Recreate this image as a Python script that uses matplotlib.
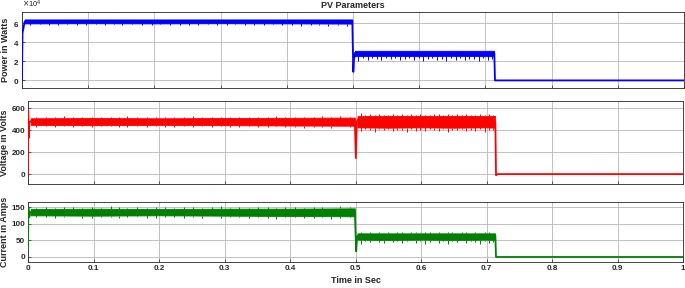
import numpy as np
import matplotlib.pyplot as plt
from matplotlib.ticker import ScalarFormatter

# ---- data ----
# switching traces (start-up, step at 0.5 s, shut-off at ~0.714 s)
p_trace_t = [0, 0.0008, 0.002, 0.004, 0.499, 0.5005, 0.5015, 0.503, 0.505, 0.712, 0.7135, 0.7145, 1.0]
p_trace_v = [0, 5.0e4, 5.4e4, 6.2e4, 6.2e4, 0.9e4, 2.2e4, 2.9e4, 2.8e4, 2.9e4, 2.9e4, 0, 0]
v_trace_t = [0, 0.0003, 0.001, 0.002, 0.004, 0.499, 0.5005, 0.502, 0.504, 0.712, 0.7135, 0.7145, 0.717, 1.0]
v_trace_v = [0, 580, 330, 470, 480, 470, 145, 480, 500, 470, 470, -10, 0, 0]
i_trace_t = [0, 0.0005, 0.002, 0.004, 0.499, 0.501, 0.5025, 0.504, 0.712, 0.7135, 0.7145, 1.0]
i_trace_v = [20, 150, 120, 135, 135, 17, 60, 65, 65, 65, 0, 0]

# ripple band limits (core of the noisy trace)
band1_t = [0.004, 0.1, 0.2, 0.3, 0.4, 0.499]
band2_t = [0.503, 0.55, 0.6, 0.65, 0.7, 0.713]
p_b1_lo = [6.0e4, 6.02e4, 6.0e4, 6.02e4, 6.0e4, 5.98e4]
p_b1_hi = [6.42e4, 6.42e4, 6.42e4, 6.42e4, 6.42e4, 6.42e4]
p_b2_lo = [2.55e4, 2.58e4, 2.55e4, 2.58e4, 2.55e4, 2.55e4]
p_b2_hi = [3.12e4, 3.12e4, 3.12e4, 3.12e4, 3.12e4, 3.12e4]
v_b1_lo = [448, 445, 448, 445, 442, 440]
v_b1_hi = [508, 510, 508, 510, 512, 514]
v_b2_lo = [425, 422, 425, 422, 425, 422]
v_b2_hi = [528, 530, 528, 530, 528, 530]
i_b1_lo = [125, 124, 125, 124, 123, 122]
i_b1_hi = [144, 145, 144, 145, 145, 146]
i_b2_lo = [52, 51, 52, 51, 52, 51]
i_b2_hi = [71, 71, 71, 71, 71, 71]

# ripple spikes outside the core band
spk1_t = [0.012, 0.027, 0.041, 0.055, 0.068, 0.083, 0.097, 0.112, 0.126, 0.139, 0.151, 0.166,
          0.181, 0.196, 0.209, 0.223, 0.238, 0.252, 0.266, 0.281, 0.295, 0.309, 0.322, 0.337,
          0.351, 0.366, 0.379, 0.393, 0.408, 0.421, 0.436, 0.449, 0.463, 0.477, 0.491]
spk2_t = [0.508, 0.515, 0.522, 0.529, 0.536, 0.543, 0.550, 0.557, 0.564, 0.571, 0.578, 0.585,
          0.592, 0.599, 0.606, 0.613, 0.620, 0.627, 0.634, 0.641, 0.648, 0.655, 0.662, 0.669,
          0.676, 0.683, 0.690, 0.697, 0.704, 0.710]
p_dn1 = [5.85e4, 5.9e4, 5.8e4, 5.88e4, 5.92e4, 5.82e4, 5.87e4, 5.9e4, 5.84e4, 5.89e4, 5.8e4, 5.9e4,
         5.86e4, 5.83e4, 5.9e4, 5.87e4, 5.81e4, 5.88e4, 5.85e4, 5.9e4, 5.82e4, 5.86e4, 5.89e4, 5.8e4,
         5.87e4, 5.84e4, 5.9e4, 5.83e4, 5.86e4, 5.78e4, 5.85e4, 5.8e4, 5.75e4, 5.82e4, 5.78e4]
p_dn2 = [2.0e4, 2.35e4, 2.2e4, 2.4e4, 2.3e4, 2.15e4, 2.4e4, 2.25e4, 2.35e4, 2.1e4, 2.3e4, 2.4e4,
         2.2e4, 2.35e4, 2.05e4, 2.3e4, 2.4e4, 2.15e4, 2.3e4, 2.0e4, 2.35e4, 2.2e4, 2.4e4, 2.1e4,
         2.3e4, 2.25e4, 2.05e4, 2.35e4, 2.2e4, 2.3e4]
v_up1 = [518, 522, 516, 525, 519, 521, 517, 524, 520, 518, 526, 519, 522, 517, 523, 520, 518,
         525, 521, 519, 523, 517, 524, 520, 522, 518, 526, 521, 519, 524, 522, 527, 520, 525, 523]
v_dn1 = [432, 438, 428, 435, 430, 440, 426, 434, 437, 429, 433, 439, 427, 436, 431, 425, 438, 430,
         434, 428, 436, 432, 426, 437, 430, 424, 435, 429, 433, 422, 431, 427, 420, 434, 428]
v_up2 = [552, 540, 545, 538, 548, 542, 536, 546, 540, 550, 537, 544, 539, 547, 541, 536, 549, 543,
         538, 546, 540, 544, 537, 548, 542, 539, 545, 541, 547, 540]
v_dn2 = [395, 410, 402, 385, 408, 398, 412, 390, 405, 400, 382, 410, 396, 404, 388, 409, 399, 392,
         406, 384, 403, 397, 411, 389, 401, 394, 407, 386, 400, 405]
i_up1 = [148, 150, 147, 151, 149, 148, 150, 147, 152, 149, 148, 151, 147, 150, 149, 148, 151, 150,
         147, 149, 152, 148, 150, 147, 149, 151, 148, 150, 149, 147, 151, 150, 148, 152, 149]
i_dn1 = [119, 121, 117, 120, 122, 118, 116, 121, 119, 117, 120, 122, 118, 116, 121, 119, 117, 120,
         118, 122, 116, 119, 121, 117, 120, 118, 115, 121, 119, 116, 118, 120, 114, 117, 119]
i_up2 = [76, 73, 74, 73, 75, 73, 74, 73, 75, 74, 73, 75, 74, 73, 74, 75, 73, 74, 73, 75, 74, 73,
         74, 75, 73, 74, 73, 75, 74, 73]
i_dn2 = [38, 48, 44, 50, 46, 42, 50, 45, 48, 41, 47, 50, 43, 48, 40, 46, 50, 42, 47, 39, 48, 44,
         50, 41, 47, 45, 40, 48, 43, 46]

x_ticks = [0, 0.1, 0.2, 0.3, 0.4, 0.5, 0.6, 0.7, 0.8, 0.9, 1.0]
x_ticklabels = ['0', '0.1', '0.2', '0.3', '0.4', '0.5', '0.6', '0.7', '0.8', '0.9', '1']

plt.rcParams['font.family'] = ['Liberation Sans', 'DejaVu Sans']
fig = plt.figure(figsize=(6.85, 2.88), dpi=100)

ax1 = fig.add_axes([0.0321, 0.6944, 0.9664, 0.2639])
ax2 = fig.add_axes([0.0409, 0.3611, 0.9562, 0.2882])
ax3 = fig.add_axes([0.0409, 0.0903, 0.9562, 0.2083])

panels = [
    dict(ax=ax1, col='#0000ff', tt=p_trace_t, tv=p_trace_v,
         b1=(p_b1_lo, p_b1_hi), b2=(p_b2_lo, p_b2_hi),
         up1=None, dn1=p_dn1, up2=None, dn2=p_dn2,
         ylim=(-0.8e4, 7.2e4), yt=[0, 2e4, 4e4, 6e4], ylab='Power in Watts'),
    dict(ax=ax2, col='#ff0000', tt=v_trace_t, tv=v_trace_v,
         b1=(v_b1_lo, v_b1_hi), b2=(v_b2_lo, v_b2_hi),
         up1=v_up1, dn1=v_dn1, up2=v_up2, dn2=v_dn2,
         ylim=(-90, 665), yt=[0, 200, 400, 600], ylab='Voltage in Volts'),
    dict(ax=ax3, col='#008000', tt=i_trace_t, tv=i_trace_v,
         b1=(i_b1_lo, i_b1_hi), b2=(i_b2_lo, i_b2_hi),
         up1=i_up1, dn1=i_dn1, up2=i_up2, dn2=i_dn2,
         ylim=(-15, 165), yt=[0, 50, 100, 150], ylab='Current in Amps'),
]

for p in panels:
    ax, col = p['ax'], p['col']
    ax.plot(p['tt'], p['tv'], color=col, lw=1.3, zorder=3)
    for bt, (lo, hi), up, dn, st in [(band1_t, p['b1'], p['up1'], p['dn1'], spk1_t),
                                    (band2_t, p['b2'], p['up2'], p['dn2'], spk2_t)]:
        ax.fill_between(bt, lo, hi, color=col, lw=0.6, edgecolor=col, zorder=3)
        ax.vlines(st, dn, np.interp(st, bt, lo), color=col, lw=0.7, zorder=3)
        if up is not None:
            ax.vlines(st, np.interp(st, bt, hi), up, color=col, lw=0.7, zorder=3)
    ax.set_xlim(0, 1)
    ax.set_ylim(*p['ylim'])
    ax.set_xticks(x_ticks)
    ax.set_yticks(p['yt'])
    ax.grid(True, color='#b8b8b8', lw=0.6)
    ax.set_axisbelow(True)
    ax.tick_params(direction='in', length=2, width=0.5, labelsize=5.8, colors='#262626', pad=2)
    for s in ax.spines.values():
        s.set_color('#262626')
        s.set_linewidth(0.6)
    ax.set_ylabel(p['ylab'], fontsize=6.5, fontweight='bold', color='#262626', labelpad=2)
    for lbl in ax.get_yticklabels():
        lbl.set_fontweight('bold')

ax1.set_xticklabels([])
ax2.set_xticklabels([])
ax3.set_xticklabels(x_ticklabels, fontweight='bold')

fmt = ScalarFormatter(useMathText=True)
fmt.set_powerlimits((0, 0))
ax1.yaxis.set_major_formatter(fmt)
ax1.yaxis.get_offset_text().set_fontsize(5.5)
ax1.yaxis.get_offset_text().set_color('#262626')

ax1.set_title('PV Parameters', fontsize=6.5, fontweight='bold', color='#262626', pad=3)
ax3.set_xlabel('Time in Sec', fontsize=6.5, fontweight='bold', color='#262626', labelpad=3)

fig.savefig('out.png', dpi=100)
